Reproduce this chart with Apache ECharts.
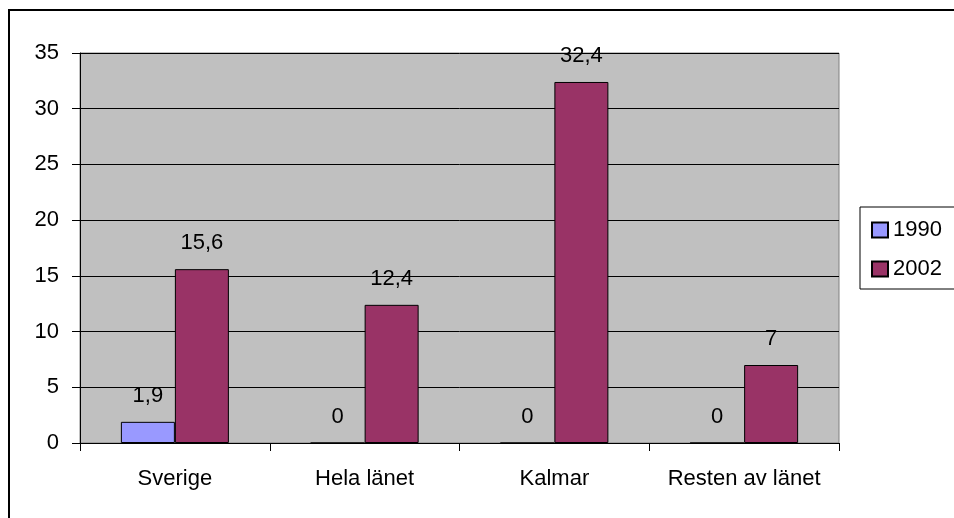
<!DOCTYPE html>
<html>
<head>
<meta charset="utf-8">
<script src="https://cdn.jsdelivr.net/npm/echarts@6/dist/echarts.min.js"></script>
<style>
  html, body { margin: 0; padding: 0; background: #fff; }
  #view1 { width: 954px; height: 518px; }
</style>
</head>
<body>
<div id="view1"></div>
<script>
var categories = ["Sverige", "Hela länet", "Kalmar", "Resten av länet"];
var years = ["1990", "2002"];
var v1990 = [1.9, 0, 0, 0];
var v2002 = [15.6, 12.4, 32.4, 7];
var yTicks = [0, 5, 10, 15, 20, 25, 30, 35];

var font = "'Liberation Sans', Arial, sans-serif";

function lbl(p) {
  return String(p.value).replace(".", ",");
}

var option = {
  animation: false,
  backgroundColor: "#fff",
  graphic: [{
    type: "rect",
    shape: { x: 9, y: 10, width: 1000, height: 600 },
    style: { fill: "none", stroke: "#000", lineWidth: 2 },
    silent: true
  }],
  grid: {
    left: 80,
    top: 53,
    right: 115,
    bottom: 75,
    show: true,
    backgroundColor: "#C0C0C0",
    borderColor: "#808080",
    borderWidth: 1
  },
  legend: {
    data: years,
    orient: "vertical",
    left: 860,
    top: 207,
    padding: [12, 40, 9, 11],
    itemGap: 17,
    itemWidth: 16,
    itemHeight: 15,
    icon: "rect",
    borderColor: "#000",
    borderWidth: 1,
    backgroundColor: "#fff",
    textStyle: { fontFamily: font, fontSize: 22, color: "#000", lineHeight: 22 }
  },
  xAxis: {
    type: "category",
    data: categories,
    axisLine: { show: true, lineStyle: { color: "#000", width: 1 } },
    axisTick: { show: true, interval: 0, length: 8, lineStyle: { color: "#000" } },
    axisLabel: { interval: 0, fontFamily: font, fontSize: 22, color: "#000", margin: 25 }
  },
  yAxis: {
    type: "value",
    min: yTicks[0],
    max: yTicks[yTicks.length - 1],
    interval: 5,
    axisLine: { show: true, lineStyle: { color: "#000", width: 1 } },
    axisTick: { show: true, length: 8, lineStyle: { color: "#000" } },
    axisLabel: { fontFamily: font, fontSize: 22, color: "#000", margin: 21 },
    splitLine: { show: true, lineStyle: { color: "#000", width: 1 } }
  },
  series: [
    {
      name: years[0],
      type: "bar",
      data: v1990,
      barWidth: 54,
      barGap: "0%",
      itemStyle: { color: "#9999FF", borderColor: "#000", borderWidth: 1 },
      label: { show: true, position: "top", distance: 15, formatter: lbl, fontFamily: font, fontSize: 22, color: "#000" }
    },
    {
      name: years[1],
      type: "bar",
      data: v2002,
      barWidth: 54,
      barGap: "0%",
      itemStyle: { color: "#993366", borderColor: "#000", borderWidth: 1 },
      label: { show: true, position: "top", distance: 15, formatter: lbl, fontFamily: font, fontSize: 22, color: "#000" }
    }
  ]
};

echarts.init(document.getElementById("view1")).setOption(option);
</script>
</body>
</html>
